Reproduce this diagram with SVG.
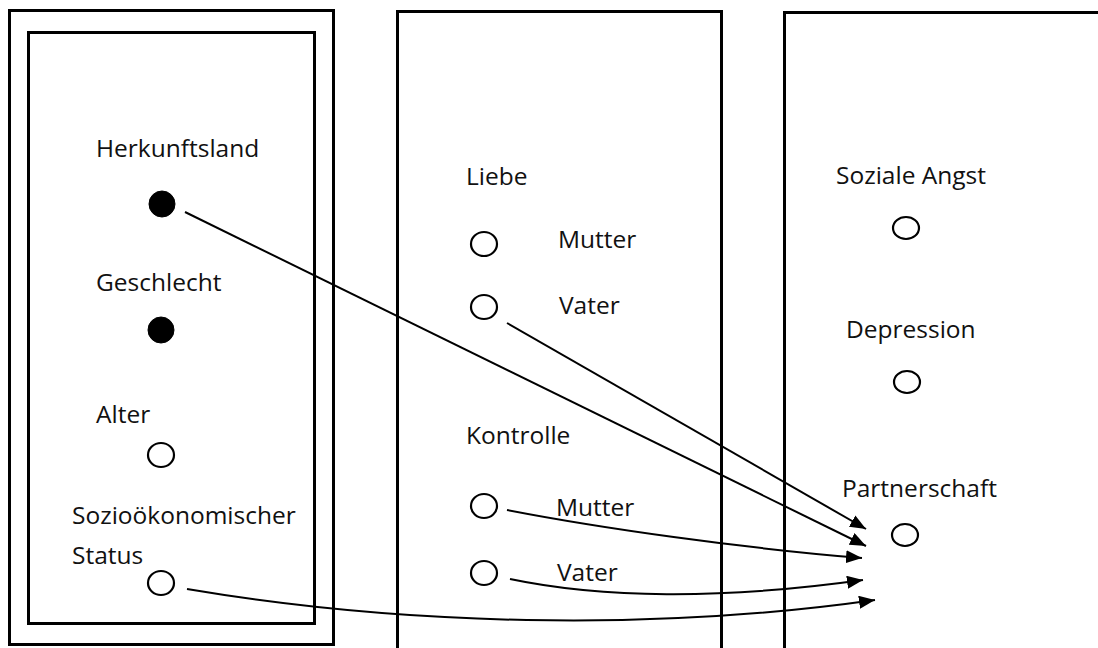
<svg xmlns="http://www.w3.org/2000/svg" width="1098" height="648" viewBox="0 0 1098 648">
<style>
.box{fill:none;stroke:#000;stroke-width:3}
.lbl{font-family:"Open Sans","Liberation Sans",sans-serif;font-size:24.5px;fill:#111}
.open{fill:#fff;stroke:#000;stroke-width:2.2}
.fill{fill:#000;stroke:#000;stroke-width:1}
.conn{fill:none;stroke:#000;stroke-width:2;marker-end:url(#ah)}
</style>
<defs>
<marker id="ah" markerUnits="userSpaceOnUse" markerWidth="18" markerHeight="13" refX="16" refY="6.5" orient="auto">
<path d="M0,0 L16,6.5 L0,13 z" fill="#000"/>
</marker>
</defs>
<rect width="1098" height="648" fill="#fff"/>
<g id="panel-left">
<rect class="box" x="9.5" y="10.5" width="324" height="634"/>
<rect class="box" x="28.5" y="32.5" width="286" height="591"/>
</g>
<g id="panel-middle">
<path class="box" d="M397.5,650 V11.5 H721.5 V650"/>
</g>
<g id="panel-right">
<path class="box" d="M784.5,650 V12.5 H1100"/>
</g>
<g id="herkunftsland">
<text class="lbl" x="96" y="157">Herkunftsland</text>
<circle class="fill" cx="162" cy="204" r="13"/>
</g>
<g id="geschlecht">
<text class="lbl" x="96" y="291">Geschlecht</text>
<circle class="fill" cx="161" cy="330" r="13"/>
</g>
<g id="alter">
<text class="lbl" x="96" y="423">Alter</text>
<ellipse class="open" cx="161" cy="455" rx="13" ry="12"/>
</g>
<g id="ses">
<text class="lbl" x="72" y="524">Sozioökonomischer</text>
<text class="lbl" x="72" y="564">Status</text>
<ellipse class="open" cx="161" cy="583" rx="13" ry="12"/>
</g>
<g id="liebe">
<text class="lbl" x="466" y="185">Liebe</text>
</g>
<g id="liebe-mutter">
<ellipse class="open" cx="484" cy="244" rx="13" ry="12"/>
<text class="lbl" x="558" y="248">Mutter</text>
</g>
<g id="liebe-vater">
<ellipse class="open" cx="484" cy="307" rx="13" ry="12"/>
<text class="lbl" x="559" y="314">Vater</text>
</g>
<g id="kontrolle">
<text class="lbl" x="466" y="444">Kontrolle</text>
</g>
<g id="kontrolle-mutter">
<ellipse class="open" cx="484" cy="506" rx="13" ry="12"/>
<text class="lbl" x="556" y="516">Mutter</text>
</g>
<g id="kontrolle-vater">
<ellipse class="open" cx="484" cy="573" rx="13" ry="12"/>
<text class="lbl" x="557" y="581">Vater</text>
</g>
<g id="soziale-angst">
<text class="lbl" x="836" y="184">Soziale Angst</text>
<ellipse class="open" cx="906" cy="228" rx="13" ry="11"/>
</g>
<g id="depression">
<text class="lbl" x="846" y="338">Depression</text>
<ellipse class="open" cx="907" cy="382" rx="13" ry="11"/>
</g>
<g id="partnerschaft">
<text class="lbl" x="842" y="497">Partnerschaft</text>
<ellipse class="open" cx="905" cy="535" rx="13" ry="11"/>
</g>
<g id="connectors">
<path class="conn" d="M185,212 L866,546"/>
<path class="conn" d="M507,323 L866,529"/>
<path class="conn" d="M507,510 C600,528 740,548 862,558"/>
<path class="conn" d="M510,579 C600,598 720,600 863,580"/>
<path class="conn" d="M187,589 C400,625 650,632 875,600"/>
</g>
</svg>
